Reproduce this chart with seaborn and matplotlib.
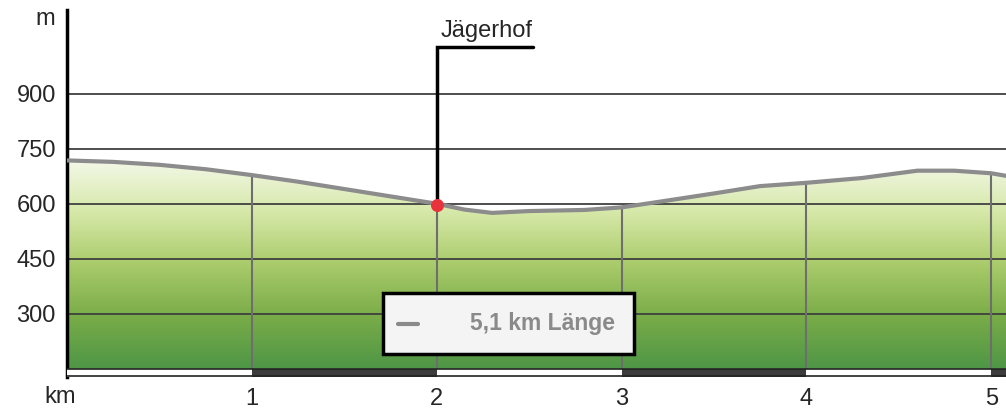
import numpy as np
import pandas as pd
import seaborn as sns
from matplotlib import pyplot as plt
from matplotlib.colors import LinearSegmentedColormap
from matplotlib.patches import Rectangle

# profile (km, m)
km = [0.0, 0.25, 0.5, 0.75, 1.0, 1.25, 1.5, 1.75, 2.0, 2.15, 2.3, 2.5, 2.8, 3.0,
      3.2, 3.5, 3.75, 4.0, 4.3, 4.6, 4.8, 5.0, 5.08]
elev = [718, 714, 706, 694, 678, 660, 640, 620, 600, 584, 575, 580, 583, 590,
        605, 628, 648, 657, 670, 690, 690, 683, 676]
y_ticks = [300, 450, 600, 750, 900]
km_ticks = [1, 2, 3, 4, 5]
place_name = "Jägerhof"
place_km = 2.0
place_elev = 597
length_label = "5,1 km Länge"

df = pd.DataFrame({"km": km, "elev": elev})

sns.set_style("white")
plt.rcParams['font.family'] = ['Liberation Sans', 'DejaVu Sans']

fig = plt.figure(figsize=(10.06, 4.16), dpi=100)
ax = fig.add_axes([0.0666, 0.094, 0.9334, 0.882])
x0, x1 = 0, 5.08
y0, y1 = 128, 1128
base = 150
ax.set_xlim(x0, x1)
ax.set_ylim(y0, y1)

# green gradient under the profile
cmap = LinearSegmentedColormap.from_list(
    "g", ["#4e9646", "#79ac48", "#a9cb6a", "#d6e8a8", "#f3f8e8"])
grad = np.linspace(0, 1, 256).reshape(-1, 1)
top = max(elev)
im = ax.imshow(grad, cmap=cmap, aspect="auto", origin="lower",
               extent=[x0, x1, base, top], zorder=1)
poly = ax.fill_between(km, base, elev, color="none", lw=0)
im.set_clip_path(poly.get_paths()[0], transform=ax.transData)

# horizontal grid
for v in y_ticks:
    ax.axhline(v, color="#404040", lw=1.3, zorder=2)

# vertical km lines up to the profile
elev_at = np.interp(km_ticks, km, elev)
for k, e in zip(km_ticks, elev_at):
    ax.plot([k, k], [base, e], color="#6e6e6e", lw=1.5, zorder=2)

# alternating km strip
colors = ["white" if i % 2 == 0 else "#3c3c3c" for i in range(6)]
ax.bar([i + 0.5 for i in range(6)], [base - y0] * 6, bottom=y0, width=1.0,
       color=colors, edgecolor="none", zorder=3)
ax.plot([x0, x1], [base, base], color="#222222", lw=1.2, zorder=4)
ax.plot([x0, x1], [y0 + 2, y0 + 2], color="#222222", lw=1.2, zorder=4)

# profile line
sns.lineplot(data=df, x="km", y="elev", ax=ax, color="#8c8c8c", lw=3, zorder=5)

# place marker
ax.plot([place_km, place_km, 2.52], [place_elev, 1028, 1028], color="black",
        lw=2.5, zorder=6, solid_joinstyle="miter")
ax.scatter([place_km], [place_elev], s=70, color="#e8323c", zorder=7)
ax.text(place_km + 0.02, 1042, place_name, fontsize=17, ha="left", va="bottom")

# length box
ax.add_patch(Rectangle((1.71, 190), 1.36, 166, fc="#f4f4f4", ec="black",
                       lw=2.5, zorder=8))
ax.text(2.57, 273, length_label, fontsize=16.5, color="#8a8a8a", fontweight="bold",
        ha="center", va="center", zorder=9)
ax.plot([1.79, 1.90], [273, 273], color="#8a8a8a", lw=3, zorder=9)

# axes
ax.set_yticks(y_ticks)
ax.set_yticklabels([str(v) for v in y_ticks], fontsize=17)
ax.set_xticks(km_ticks)
ax.set_xticklabels([str(k) for k in km_ticks], fontsize=17)
ax.tick_params(length=0, pad=8)
ax.set_xlabel("")
ax.set_ylabel("")
for s in ["top", "right", "bottom"]:
    ax.spines[s].set_visible(False)
ax.spines["left"].set_linewidth(2.5)
ax.spines["left"].set_color("black")
fig.text(0.045, 0.955, "m", fontsize=17, ha="center", va="center")
fig.text(0.06, 0.045, "km", fontsize=17, ha="center", va="center")

fig.savefig("out.png", dpi=100)
